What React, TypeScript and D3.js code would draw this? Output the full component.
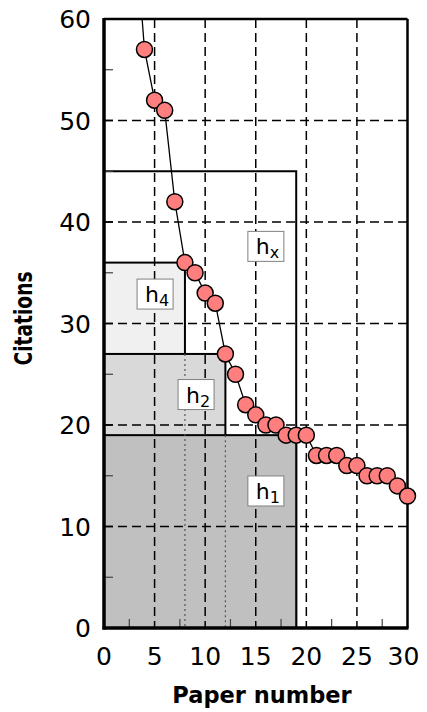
import * as d3 from 'd3';

// citations per paper, sorted high to low (first few run off the top)
const paperNumbers = d3.range(1, 31);
const citations = [120, 90, 70, 57, 52, 51, 42, 36, 35, 33, 32, 27, 25, 22, 21, 20, 20, 19, 19, 19, 17, 17, 17, 16, 16, 15, 15, 15, 14, 13];

// index boxes: drawn back to front
const boxNames = ['x', '4', '2', '1'];
const boxWidths = [19, 8, 12, 19];
const boxHeights = [45, 36, 27, 19];
const boxFills = ['#ffffff', '#f0f0f0', '#d9d9d9', '#c0c0c0'];
// label anchor in data units
const labelX = [16, 5.05, 9.1, 16];
const labelY = [37.6, 32.9, 23, 13.5];

const xTicks = [0, 5, 10, 15, 20, 25, 30];
const yTicks = [0, 10, 20, 30, 40, 50, 60];

const W = 427;
const H = 712;
const font = '"DejaVu Sans", Verdana, sans-serif';

export default function App() {
  const x = d3.scaleLinear().domain([0, 30]).range([104, 407.5]);
  const y = d3.scaleLinear().domain([0, 60]).range([628, 19]);

  const [x0, x1] = x.range();
  const [y0, y1] = y.range();

  const line = d3
    .line<number>()
    .x((_, i) => x(paperNumbers[i]))
    .y(d => y(d));

  const minorX = d3.range(2.5, 30, 5);
  const minorY = d3.range(5, 60, 10);

  const dotted = [
    { at: 8, top: 27 },
    { at: 12, top: 19 }
  ];

  return (
    <svg
      width={W}
      height={H}
      style={{ position: 'absolute', left: 0, top: 0, background: '#fff' }}
    >
      <defs>
        <clipPath id="plot">
          <rect x={x0} y={y1} width={x1 - x0 + 20} height={y0 - y1} />
        </clipPath>
      </defs>

      {/* boxes */}
      {boxNames.map((n, i) => (
        <rect
          key={n}
          x={x(0)}
          y={y(boxHeights[i])}
          width={x(boxWidths[i]) - x(0)}
          height={y(0) - y(boxHeights[i])}
          fill={boxFills[i]}
          stroke="#000"
          strokeWidth={2}
        />
      ))}

      {dotted.map(d => (
        <line
          key={d.at}
          x1={x(d.at)}
          x2={x(d.at)}
          y1={y(d.top)}
          y2={y(0)}
          stroke="#555"
          strokeWidth={1.2}
          strokeDasharray="2,3"
        />
      ))}

      {/* grid */}
      {xTicks.slice(1, -1).map(t => (
        <line
          key={'gx' + t}
          x1={x(t)}
          x2={x(t)}
          y1={y1}
          y2={y0}
          stroke="#000"
          strokeWidth={1.5}
          strokeDasharray="9,5"
        />
      ))}
      {yTicks.slice(1, -1).map(t => (
        <line
          key={'gy' + t}
          x1={x0}
          x2={x1}
          y1={y(t)}
          y2={y(t)}
          stroke="#000"
          strokeWidth={1.5}
          strokeDasharray="9,5"
        />
      ))}

      {/* minor ticks */}
      {minorX.map(t => (
        <line key={'mx' + t} x1={x(t)} x2={x(t)} y1={y0} y2={y0 - 9} stroke="#444" strokeWidth={1.2} />
      ))}
      {minorY.map(t => (
        <line key={'my' + t} x1={x0} x2={x0 + 9} y1={y(t)} y2={y(t)} stroke="#444" strokeWidth={1.2} />
      ))}
      {yTicks.map(t => (
        <line key={'ty' + t} x1={x0} x2={x0 + 9} y1={y(t)} y2={y(t)} stroke="#000" strokeWidth={1.5} />
      ))}

      {/* labels for boxes */}
      {boxNames.map((n, i) => (
        <g key={'lab' + n} transform={`translate(${x(labelX[i])},${y(labelY[i])})`}>
          <rect x={-18} y={-15} width={36} height={30} fill="#fff" stroke="#808080" strokeWidth={1} />
          <text x={-10} y={8} fontFamily={font} fontSize={22} fill="#000">
            h
            <tspan fontSize={16} dy={4}>
              {n}
            </tspan>
          </text>
        </g>
      ))}

      {/* frame */}
      <line x1={x0} x2={x1} y1={y1} y2={y1} stroke="#000" strokeWidth={2.5} />
      <line x1={x1} x2={x1} y1={y1} y2={y0} stroke="#000" strokeWidth={2.5} />
      <line x1={x0} x2={x0} y1={y1 - 1} y2={y0 + 1.5} stroke="#000" strokeWidth={3.5} />
      <line x1={x0 - 1.5} x2={x1 + 1} y1={y0} y2={y0} stroke="#000" strokeWidth={3.5} />

      {/* citation curve */}
      <g clipPath="url(#plot)">
        <path d={line(citations) ?? ''} fill="none" stroke="#000" strokeWidth={1.3} />
        {citations.map((c, i) => (
          <circle
            key={i}
            cx={x(paperNumbers[i])}
            cy={y(c)}
            r={8}
            fill="#ff7f7f"
            stroke="#000"
            strokeWidth={1.5}
          />
        ))}
      </g>

      {/* tick labels */}
      {yTicks.map(t => (
        <text
          key={'yl' + t}
          x={x0 - 13}
          y={y(t)}
          dy="0.36em"
          textAnchor="end"
          fontFamily={font}
          fontSize={25}
          fill="#000"
        >
          {t}
        </text>
      ))}
      {xTicks.map(t => (
        <text
          key={'xl' + t}
          x={t === 30 ? x(t) - 4 : x(t)}
          y={665}
          textAnchor="middle"
          fontFamily={font}
          fontSize={25}
          fill="#000"
        >
          {t}
        </text>
      ))}

      {/* axis titles */}
      <text
        x={262}
        y={703}
        textAnchor="middle"
        fontFamily={font}
        fontWeight="bold"
        fontSize={22.5}
        fill="#000"
      >
        Paper number
      </text>
      <text
        transform={`translate(32,${(y0 + y1) / 2 - 5}) rotate(-90)`}
        textAnchor="middle"
        fontFamily={font}
        fontWeight="bold"
        fontSize={25}
        textLength={94}
        lengthAdjust="spacingAndGlyphs"
        fill="#000"
      >
        Citations
      </text>
    </svg>
  );
}
